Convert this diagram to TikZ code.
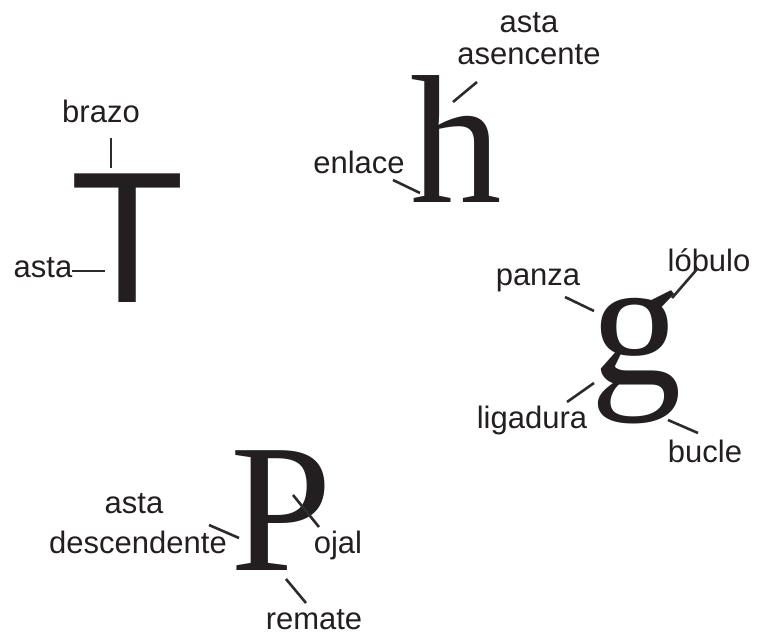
\documentclass[tikz,border=0pt]{standalone}
\usepackage{fontspec}
\setmainfont{Liberation Serif}
\setsansfont{Liberation Sans}
\definecolor{ink}{RGB}{35,31,32}
\definecolor{leadgray}{RGB}{45,43,44}

\begin{document}
\begin{tikzpicture}[x=1pt, y=-1pt,
        lbl/.style={inner sep=0pt, anchor=base, text=ink, font=\sffamily\fontsize{31}{33}\selectfont},
        glyph/.style={inner sep=0pt, anchor=base, text=ink, font=\fontsize{183}{183}\selectfont},
        leader/.style={draw=leadgray, line width=2.6pt}]
        \useasboundingbox (0,0) rectangle (757,634);

        % Letters
        \node[glyph, font=\sffamily\fontsize{187}{187}\selectfont] (T) at (128,302) {T};
        \node[glyph] (h) at (456,202) {h};
        \node[glyph] (g) at (636,384) {g};
        \node[glyph] (P) at (281,570) {P};

        % Labels
        \node[lbl] (brazo) at (101,122) {brazo};
        \node[lbl] (astaT) at (43,277) {asta};
        \node[lbl] (astaH) at (529,33) {asta};
        \node[lbl] (asencente) at (529,65) {asencente};
        \node[lbl] (enlace) at (359,173) {enlace};
        \node[lbl] (lobulo) at (709,271) {lóbulo};
        \node[lbl] (panza) at (538,285) {panza};
        \node[lbl] (ligadura) at (532,428) {ligadura};
        \node[lbl] (bucle) at (705,462) {bucle};
        \node[lbl] (astaP) at (134,513) {asta};
        \node[lbl] (descendente) at (138,553) {descendente};
        \node[lbl] (ojal) at (338,553) {ojal};
        \node[lbl] (remate) at (314,629) {remate};

        % Leader ends
        \coordinate (brazo-a) at (111,138);  \coordinate (brazo-b) at (111,168);
        \coordinate (astaT-a) at (72,271);   \coordinate (astaT-b) at (105,271);
        \coordinate (astaH-a) at (477,82);   \coordinate (astaH-b) at (453,102);
        \coordinate (enlace-a) at (393,180); \coordinate (enlace-b) at (420,193);
        \coordinate (lobulo-a) at (698,268); \coordinate (lobulo-b) at (672,298);
        \coordinate (panza-a) at (565,297);  \coordinate (panza-b) at (594,311);
        \coordinate (ligadura-a) at (594,383); \coordinate (ligadura-b) at (567,402);
        \coordinate (bucle-a) at (668,420);  \coordinate (bucle-b) at (698,433);
        \coordinate (astaP-a) at (209,525);  \coordinate (astaP-b) at (239,538);
        \coordinate (ojal-a) at (293,495);   \coordinate (ojal-b) at (319,527);
        \coordinate (remate-a) at (286,579); \coordinate (remate-b) at (306,603);

        % Leader lines
        \foreach \part in {brazo,astaT,astaH,enlace,lobulo,panza,ligadura,bucle,astaP,ojal,remate}
            \draw[leader] (\part-a) -- (\part-b);

    \end{tikzpicture}
\end{document}
